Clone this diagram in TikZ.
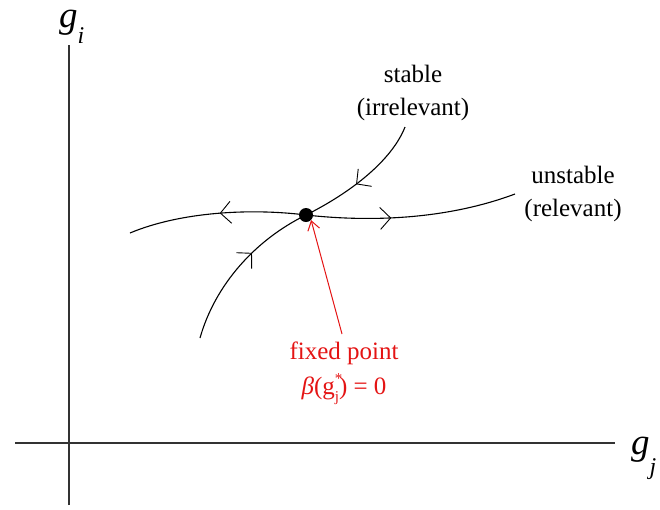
\documentclass[tikz,border=0pt]{standalone}
\usepackage{fontspec}
\setmainfont{Liberation Serif}
\usetikzlibrary{arrows.meta,decorations.markings}
\definecolor{fpred}{RGB}{228,20,20}
\begin{document}
\begin{tikzpicture}[x=1pt,y=-1pt,
  axis/.style={line width=1.1pt,draw=black!80},
  flow/.style={line width=1.1pt},
  chev/.style={postaction={decorate},decoration={markings,mark=at position #1 with {\draw[line width=0.9pt] (-10.5pt,11pt) -- (0pt,0pt) -- (-10.5pt,-11pt);}}},
  lbl/.style={font=\fontsize{25}{33}\selectfont,align=center,inner sep=0pt},
  axlbl/.style={font=\fontsize{37}{40}\selectfont\itshape,inner sep=0pt,anchor=base west}
]
\useasboundingbox (0,0) rectangle (660,509);
% axes
\coordinate (yb) at (69,505);
\coordinate (yt) at (69,45);
\coordinate (xl) at (15,443);
\coordinate (xr) at (615,443);
\draw[axis] (yb) -- (yt);
\draw[axis] (xl) -- (xr);
\node[axlbl] (gi) at (59,27) {g\raisebox{-0.45em}{\fontsize{24}{24}\selectfont i}};
\node[axlbl] (gj) at (631,454) {g\raisebox{-0.55em}{\fontsize{24}{24}\selectfont j}};
% fixed point
\node[circle,fill=black,minimum size=14pt,inner sep=0pt] (fp) at (306,215) {};
\coordinate (uL) at (130,233);
\coordinate (uR) at (515,194);
\coordinate (sT) at (405,127);
\coordinate (sB) at (200,338);
% unstable direction (away from fp)
\draw[flow,chev=0.48] (fp.center) .. controls (250,208) and (180,212) .. (uL);
\draw[flow,chev=0.4] (fp.center) .. controls (360,221) and (440,222) .. (uR);
% stable direction (toward fp)
\draw[flow,chev=0.56] (sT) .. controls (392,160) and (352,192) .. (fp.center);
\draw[flow,chev=0.6] (sB) .. controls (215,285) and (255,240) .. (fp.center);
% labels
\node[lbl] (st) at (413,93) {stable\\(irrelevant)};
\node[lbl] (un) at (573,194) {unstable\\(relevant)};
% red annotation
\node[lbl,text=fpred,font=\fontsize{25}{35}\selectfont] (fx) at (344,373) {fixed point\\{\itshape β}(g\makebox[0pt][l]{\raisebox{0.42em}{\fontsize{15}{15}\selectfont *}}\raisebox{-0.28em}{\fontsize{15}{15}\selectfont j}) = 0};
\coordinate (rt) at (342,334);
\draw[fpred,line width=1pt,-{Straight Barb[length=9pt,width=12pt]}] (rt) -- (fp.south east);
\end{tikzpicture}
\end{document}
